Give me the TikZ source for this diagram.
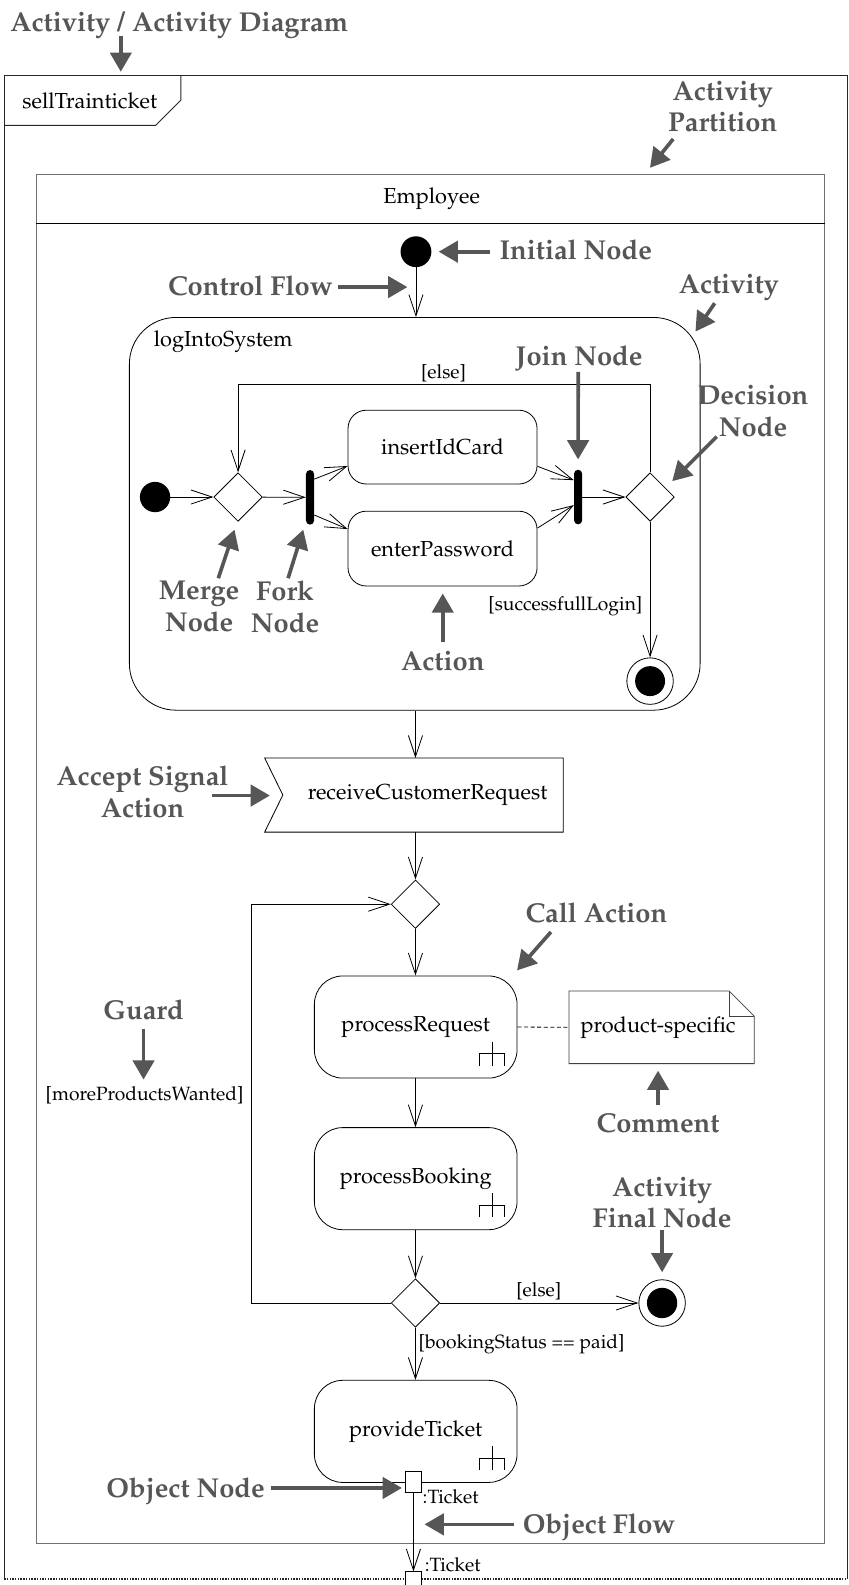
\documentclass[tikz,border=0pt]{standalone}
\usepackage[T1]{fontenc}
\usepackage{mathpazo}
\usetikzlibrary{arrows.meta,shapes.geometric}
\definecolor{lblgray}{HTML}{565656}
\definecolor{partgray}{HTML}{707070}
\newcommand\txtN{\fontsize{21.5}{25}\selectfont}
\newcommand\txtG{\fontsize{19}{22}\selectfont}
\newcommand\txtB{\fontsize{27}{31.5}\selectfont\bfseries}
\tikzset{
  flow/.style={line width=0.8pt, -{Straight Barb[length=21pt,width=14pt,line width=0.8pt]}},
  callout/.style={draw=lblgray, line width=3.6pt, -{Triangle[length=19pt,width=21pt]}},
  lbl/.style={font=\txtB, text=lblgray, align=center, inner sep=0pt},
  guard/.style={font=\txtG, inner sep=0pt},
  actionbox/.style={draw, line width=0.8pt, rounded corners=18pt, font=\txtN, inner sep=0pt},
  callbox/.style={draw, line width=0.8pt, rounded corners=28pt, font=\txtN, inner sep=0pt,
                  minimum width=200.5pt, minimum height=101pt},
  initnode/.style={circle, fill=black, minimum size=30.5pt, inner sep=0pt},
  finalnode/.style={circle, draw, line width=0.8pt, fill=white, minimum size=46pt, inner sep=0pt},
  choice/.style={diamond, draw, line width=0.8pt, fill=white, minimum size=48pt, inner sep=0pt},
  bar/.style={fill=black, rounded corners=4pt, minimum width=8pt, minimum height=54pt, inner sep=0pt},
  pinbox/.style={draw, line width=0.8pt, fill=white, minimum width=16pt, minimum height=20pt, inner sep=0pt},
  rake/.pic={
    \draw[line width=0.8pt] (0,-12) -- (0,12) (-12.5,12) -- (-12.5,0) -- (12.5,0) -- (12.5,12);
  }
}
\begin{document}
\begin{tikzpicture}[x=1pt,y=-1pt]
\clip (0,0) rectangle (839,1568);
\fill[white] (0,0) rectangle (839,1568);

% ---------- activity frame ----------
\draw[line width=1pt, black!85] (4,1562) -- (4,75) -- (838,75) -- (838,1562);
\draw[line width=1.6pt, black!85, dash pattern=on 1.5pt off 1.2pt] (4,1562) -- (838,1562);
\draw[line width=1pt, black!85] (4,124) -- (154,124) -- (179,99) -- (179,75);
\node[font=\txtN, anchor=base west, inner sep=0pt] (frametitle) at (22,107) {sellTrainticket};

% ---------- partition ----------
\draw[line width=1.2pt, partgray] (36,173) rectangle (816,1527);
\draw[line width=0.8pt] (36,221.5) -- (816,221.5);
\node[font=\txtN] (lane) at (427,197) {Employee};

\coordinate (ax) at (411,0);
\coordinate (loopx) at (249,0);

% ---------- login activity ----------
\node[initnode] (init) at (411.5,249) {};
\node[draw, line width=0.8pt, rounded corners=46pt, minimum width=564.6pt, minimum height=388.5pt,
      inner sep=0pt] (login) at (410.3,508.3) {};
\node[font=\txtN, anchor=base west, inner sep=0pt] (logintitle) at (152,343) {logIntoSystem};

\node[initnode, minimum size=30pt] (init2) at (153.4,491.7) {};
\node[choice] (merge) at (235.5,491.7) {};
\node[bar] (fork) at (306.7,492) {};
\node[actionbox, minimum width=187pt, minimum height=73pt] (card) at (437.8,442.3) {insertIdCard};
\node[actionbox, minimum width=187pt, minimum height=74pt] (pwd) at (437.8,542.7) {enterPassword};
\node[bar] (join) at (571.9,491.7) {};
\node[choice] (dec) at (643.1,491.7) {};
\node[finalnode] (fin1) at (643.1,673.8) {};
\fill (fin1.center) circle (14.8pt);

\draw[flow] (init) -- (init |- login.north);
\draw[flow] (init2) -- (merge);
\draw[flow] (merge) -- (fork);
\draw[flow] ([yshift=18pt]fork.east) -- ([yshift=-18.7pt]card.west);
\draw[flow] ([yshift=-17.5pt]fork.east) -- ([yshift=19.3pt]pwd.west);
\draw[flow] ([yshift=-19pt]card.east) -- ([yshift=16.7pt]join.west);
\draw[flow] ([yshift=20.3pt]pwd.east) -- ([yshift=-8pt]join.west);
\draw[flow] (join) -- (dec);
\draw[flow] (dec.north) -- (dec.north |- 0,380) -| (merge.north);
\draw[flow] (dec) -- (fin1);
\node[guard, anchor=base] (g1) at (438.8,374) {[else]};
\node[guard, anchor=base west] (g2) at (483,603.5) {[successfullLogin]};

% ---------- customer request ----------
\node[font=\txtN, minimum width=295pt, minimum height=73pt, inner sep=0pt] (recv) at (409.5,786.5)
  {\hspace*{27pt}receiveCustomerRequest};
\draw[line width=0.8pt] (recv.north west) -- (recv.north east) -- (recv.south east) -- (recv.south west)
  -- ([xshift=18pt]recv.west) -- cycle;
\draw[flow] (login.south -| ax) -- (recv.north -| ax);

\node[choice] (dec2) at (411,894.5) {};
\draw[flow] (recv.south -| ax) -- (dec2.north);

\node[callbox] (preq) at (411.25,1016) {processRequest};
\pic at ([shift={(-25,-24.5)}]preq.south east) {rake};
\node[callbox] (pbook) at (411.25,1166) {processBooking};
\pic at ([shift={(-25,-24.5)}]pbook.south east) {rake};
\node[choice] (dec3) at (411,1289) {};
\node[finalnode, minimum size=46pt] (fin2) at (655,1289) {};
\fill (fin2.center) circle (15pt);
\node[callbox] (ptick) at (411.25,1416) {provideTicket};
\pic at ([shift={(-25,-24.5)}]ptick.south east) {rake};

\draw[flow] (dec2.south) -- (preq.north -| dec2.south);
\draw[flow] (preq.south -| dec3.north) -- (pbook.north -| dec3.north);
\draw[flow] (pbook.south -| dec3.north) -- (dec3.north);
\draw[flow] (dec3.west) -- (dec3.west -| loopx) -- (dec2.west -| loopx) -- (dec2.west);
\draw[flow] (dec3.east) -- (fin2);
\draw[flow] (dec3.south) -- (ptick.north -| dec3.south);
\node[guard, anchor=base east] (g3) at (241,1089) {[moreProductsWanted]};
\node[guard, anchor=base] (g4) at (533,1283) {[else]};
\node[guard, anchor=base west] (g5) at (414,1334) {[bookingStatus == paid]};

% comment note
\node[font=\txtN, minimum width=183pt, minimum height=71.5pt, inner sep=0pt] (note) at (654.5,1016.25)
  {product-specific\hspace*{7pt}};
\draw[line width=0.8pt, black!75] (note.north west) -- ([xshift=-25pt]note.north east)
  -- ([yshift=-25pt]note.north east) -- (note.south east) -- (note.south west) -- cycle;
\draw[line width=0.8pt, black!75] ([xshift=-25pt]note.north east) |- ([yshift=-25pt]note.north east);
\draw[line width=0.8pt, dash pattern=on 4pt off 2.5pt] (preq.east) -- (note.west);

% object pins
\node[pinbox] (pin1) at (409,1466) {};
\node[pinbox] (pin2) at (409,1565) {};
\draw[flow] (pin1.south) -- (pin2.north);
\node[guard, anchor=base west] (t1) at (418,1487) {:Ticket};
\node[guard, anchor=base west] (t2) at (420,1555) {:Ticket};

% ---------- explanatory labels ----------
\node[lbl, anchor=base west] (lTitle) at (10,31) {Activity / Activity Diagram};
\coordinate (aTitle) at (119.5,71);
\draw[callout] (119.5,35.5) -- (aTitle);

\node[lbl] (lPart) at (715,105.4) {Activity\\Partition};
\coordinate (tPart) at (666,137.5); \coordinate (aPart) at (643,166);
\draw[callout] (tPart) -- (aPart);

\node[lbl, anchor=base west] (lInit) at (494,257) {Initial Node};
\draw[callout] ([xshift=-9pt]lInit.west |- init) -- ([xshift=7pt]init.east);

\node[lbl, anchor=base west] (lCtrl) at (166,292) {Control Flow};
\coordinate (aCtrl) at (403,284);
\draw[callout] (334,284) -- (aCtrl);

\node[lbl, anchor=base] (lAct) at (721,290) {Activity};
\coordinate (tAct) at (707,300); \coordinate (aAct) at (688,328);
\draw[callout] (tAct) -- (aAct);

\node[lbl, anchor=base] (lJoin) at (573,362) {Join Node};
\draw[callout] (572,368) -- ([yshift=10pt]join.north);

\node[lbl] (lDec) at (745,407) {Decision\\Node};
\coordinate (tDec) at (709,432); \coordinate (aDec) at (665,476);
\draw[callout] (tDec) -- (aDec);

\node[lbl] (lMerge) at (197,600) {Merge\\Node};
\coordinate (tMerge) at (216,572); \coordinate (aMerge) at (232,524);
\draw[callout] (tMerge) -- (aMerge);

\node[lbl] (lFork) at (282,600) {Fork\\Node};
\coordinate (tFork) at (285,572); \coordinate (aFork) at (300,524);
\draw[callout] (tFork) -- (aFork);

\node[lbl, anchor=base] (lAction) at (438,663) {Action};
\draw[callout] (438,635) -- ([yshift=-7pt]pwd.south -| 438,0);

\node[lbl] (lAccept) at (141,783.6) {Accept Signal\\Action};
\coordinate (aAccept) at (267,787);
\draw[callout] (210,787) -- (aAccept);

\node[lbl, anchor=base] (lCall) at (590,913) {Call Action};
\coordinate (tCall) at (545,922); \coordinate (aCall) at (511.5,960);
\draw[callout] (tCall) -- (aCall);

\node[lbl, anchor=base] (lComment) at (651,1120) {Comment};
\draw[callout] (651,1093) -- ([yshift=-7pt]note.south -| 651,0);

\node[lbl, anchor=base] (lGuard) at (142,1009) {Guard};
\coordinate (aGuard) at (142,1068);
\draw[callout] (142,1018) -- (aGuard);

\node[lbl] (lFinal) at (655,1189.7) {Activity\\Final Node};
\draw[callout] (655,1217) -- ([yshift=7pt]fin2.north);

\node[lbl, anchor=base west] (lObjN) at (105,1481) {Object Node};
\draw[callout] (268,1472) -- ([xshift=-3pt]pin1.west |- 0,1472);

\node[lbl, anchor=base west] (lObjF) at (517,1517) {Object Flow};
\coordinate (aObjF) at (420,1508);
\draw[callout] (508,1508) -- (aObjF);
\end{tikzpicture}
\end{document}
